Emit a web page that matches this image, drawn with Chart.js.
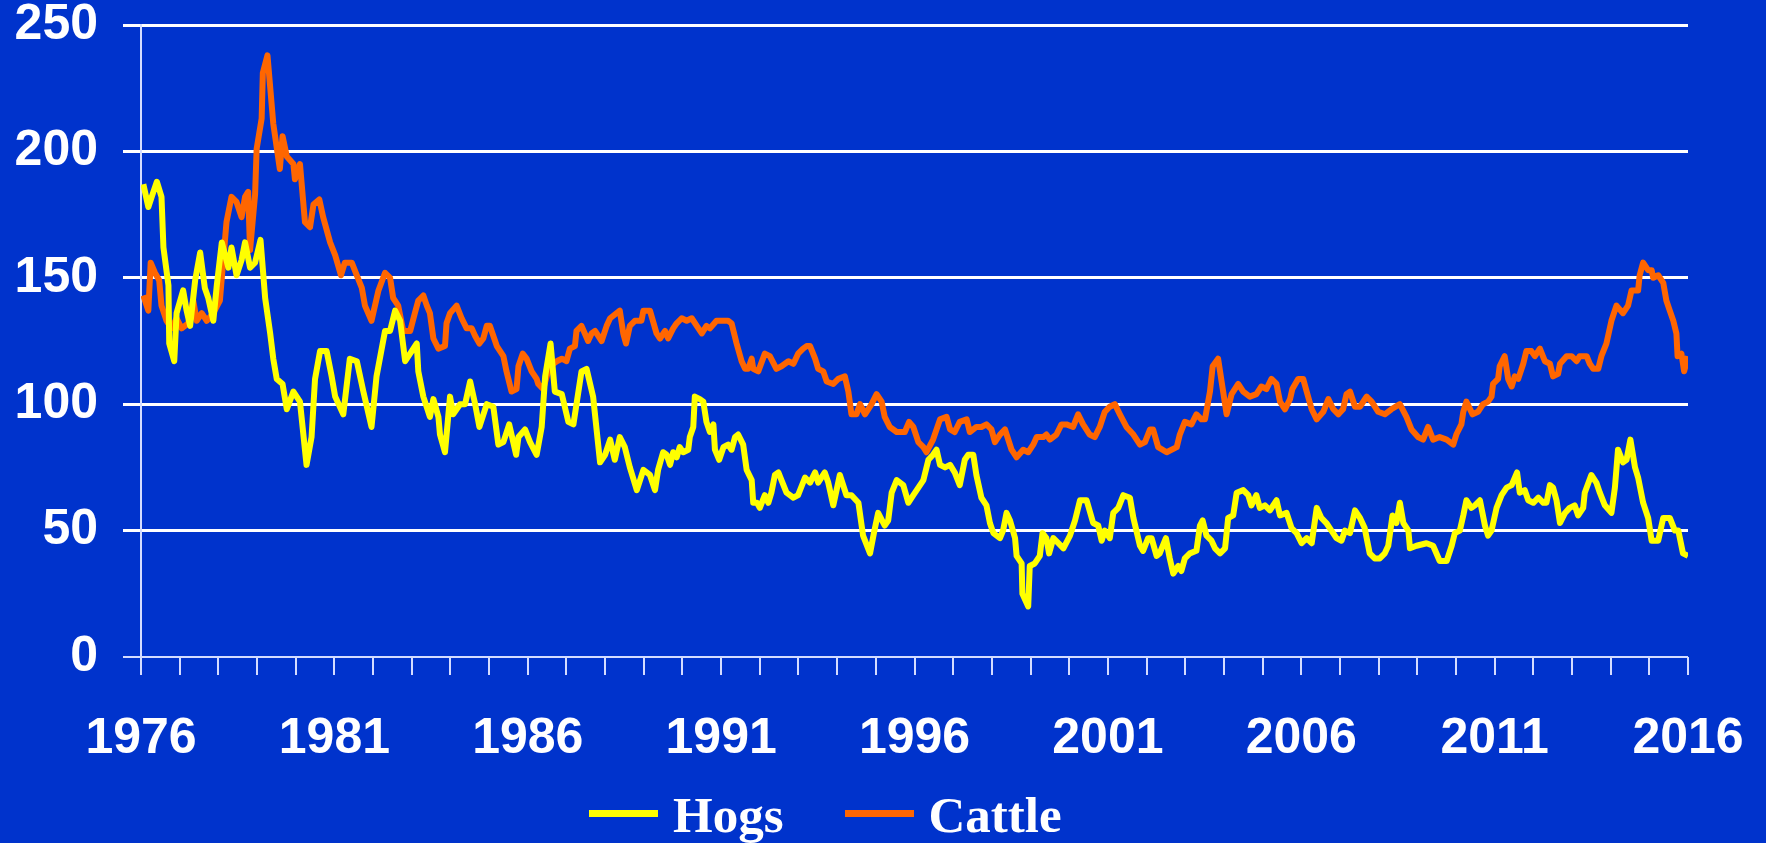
<!DOCTYPE html>
<html>
<head>
<meta charset="utf-8">
<title>Hogs and Cattle</title>
<script src="https://cdn.jsdelivr.net/npm/chart.js@4.4.1/dist/chart.umd.min.js"></script>
<style>
  html, body { margin: 0; padding: 0; background: #0033cc; }
  #wrap { position: relative; width: 1766px; height: 843px; overflow: hidden; }
  #legend {
    position: absolute; left: 589px; top: 790px;
    display: flex; align-items: center;
    font: bold 51px "Liberation Serif", "Times New Roman", serif;
    line-height: 51px; color: #ffffff; white-space: nowrap;
  }
  #legend .item { display: flex; align-items: center; margin-right: 61px; }
  #legend .swatch { width: 69px; height: 7px; margin-right: 15px; position: relative; top: -2px; }
</style>
</head>
<body>
<div id="wrap">
  <canvas id="chart" width="1766" height="843"></canvas>
  <div id="legend"></div>
</div>
<script>
const yearLabels = [1976, 1981, 1986, 1991, 1996, 2001, 2006, 2011, 2016]
const yTicks = [0, 50, 100, 150, 200, 250]

// readings taken off the original, date as decimal year
const hogDates = [
  1976.06, 1976.19, 1976.32, 1976.41, 1976.53, 1976.58, 1976.71, 1976.73, 1976.86, 1976.92,
  1977.09, 1977.18, 1977.27, 1977.40, 1977.53, 1977.65, 1977.74, 1977.87, 1977.96, 1978.09,
  1978.26, 1978.34, 1978.47, 1978.60, 1978.69, 1978.82, 1978.95, 1979.09, 1979.21, 1979.34,
  1979.42, 1979.51, 1979.66, 1979.77, 1979.94, 1980.11, 1980.28, 1980.41, 1980.50, 1980.63,
  1980.80, 1980.93, 1981.02, 1981.23, 1981.40, 1981.58, 1981.75, 1981.96, 1982.09, 1982.31,
  1982.44, 1982.57, 1982.70, 1982.83, 1983.00, 1983.13, 1983.17, 1983.30, 1983.47, 1983.56,
  1983.69, 1983.73, 1983.86, 1983.99, 1984.07, 1984.25, 1984.38, 1984.51, 1984.64, 1984.75,
  1984.94, 1985.11, 1985.24, 1985.37, 1985.52, 1985.70, 1985.76, 1985.93, 1986.06, 1986.23,
  1986.36, 1986.45, 1986.59, 1986.70, 1986.88, 1987.05, 1987.18, 1987.26, 1987.39, 1987.52,
  1987.69, 1987.87, 1988.00, 1988.13, 1988.25, 1988.38, 1988.51, 1988.64, 1988.82, 1988.99,
  1989.16, 1989.29, 1989.37, 1989.50, 1989.59, 1989.68, 1989.76, 1989.85, 1989.93, 1990.02,
  1990.15, 1990.19, 1990.28, 1990.32, 1990.45, 1990.54, 1990.62, 1990.71, 1990.80, 1990.84,
  1990.95, 1991.06, 1991.18, 1991.27, 1991.36, 1991.44, 1991.57, 1991.66, 1991.79, 1991.83,
  1991.93, 1992.00, 1992.13, 1992.22, 1992.30, 1992.39, 1992.48, 1992.56, 1992.69, 1992.87,
  1992.99, 1993.17, 1993.30, 1993.43, 1993.51, 1993.68, 1993.77, 1993.90, 1994.07, 1994.24,
  1994.37, 1994.55, 1994.67, 1994.85, 1994.95, 1995.06, 1995.23, 1995.32, 1995.41, 1995.54,
  1995.71, 1995.84, 1995.97, 1996.10, 1996.23, 1996.36, 1996.48, 1996.57, 1996.66, 1996.79,
  1996.92, 1997.04, 1997.17, 1997.30, 1997.39, 1997.52, 1997.60, 1997.73, 1997.86, 1997.95,
  1998.04, 1998.21, 1998.29, 1998.38, 1998.47, 1998.60, 1998.64, 1998.77, 1998.79, 1998.94,
  1998.98, 1999.11, 1999.24, 1999.31, 1999.41, 1999.48, 1999.59, 1999.72, 1999.85, 2000.02,
  2000.15, 2000.28, 2000.45, 2000.62, 2000.75, 2000.84, 2000.92, 2001.05, 2001.14, 2001.27,
  2001.40, 2001.57, 2001.66, 2001.83, 2001.91, 2002.04, 2002.13, 2002.26, 2002.34, 2002.50,
  2002.60, 2002.69, 2002.82, 2002.90, 2002.99, 2003.12, 2003.29, 2003.38, 2003.45, 2003.55,
  2003.68, 2003.77, 2003.90, 2004.03, 2004.11, 2004.24, 2004.33, 2004.50, 2004.63, 2004.71,
  2004.84, 2004.93, 2005.06, 2005.19, 2005.36, 2005.45, 2005.62, 2005.75, 2005.88, 2006.01,
  2006.14, 2006.27, 2006.40, 2006.52, 2006.65, 2006.78, 2006.91, 2007.04, 2007.13, 2007.26,
  2007.39, 2007.52, 2007.64, 2007.77, 2007.90, 2008.03, 2008.16, 2008.25, 2008.36, 2008.46,
  2008.55, 2008.64, 2008.77, 2008.81, 2008.98, 2009.24, 2009.41, 2009.58, 2009.76, 2009.89,
  2009.97, 2010.10, 2010.19, 2010.27, 2010.40, 2010.49, 2010.62, 2010.75, 2010.83, 2010.92,
  2011.05, 2011.18, 2011.31, 2011.44, 2011.58, 2011.65, 2011.78, 2011.87, 2012.00, 2012.13,
  2012.26, 2012.34, 2012.43, 2012.51, 2012.60, 2012.69, 2012.82, 2012.94, 2013.07, 2013.16,
  2013.29, 2013.33, 2013.50, 2013.63, 2013.72, 2013.85, 2014.02, 2014.11, 2014.19, 2014.32,
  2014.41, 2014.51, 2014.63, 2014.71, 2014.84, 2014.97, 2015.06, 2015.23, 2015.36, 2015.53,
  2015.66, 2015.75, 2015.87, 2016.00
]
const hogs = [
  187, 178, 184, 188, 182, 162, 147, 124, 117, 136,
  145, 137, 131, 149, 160, 146, 142, 133, 147, 164,
  154, 162, 151, 157, 164, 154, 156, 165, 142, 128,
  118, 110, 108, 98, 105, 101, 76, 87, 110, 121,
  121, 111, 103, 96, 118, 117, 105, 91, 111, 129,
  129, 137, 133, 117, 121, 124, 113, 103, 95, 102,
  95, 88, 81, 103, 96, 100, 100, 109, 100, 91,
  100, 99, 84, 85, 92, 80, 87, 90, 85, 80,
  91, 111, 124, 105, 104, 93, 92, 100, 113, 114,
  103, 77, 80, 86, 78, 87, 83, 75, 66, 74,
  72, 66, 74, 81, 80, 76, 81, 79, 83, 81,
  82, 87, 91, 103, 102, 101, 93, 89, 92, 82,
  78, 83, 84, 82, 87, 88, 84, 74, 70, 61,
  61, 59, 64, 61, 65, 72, 73, 70, 65, 63,
  64, 71, 69, 73, 69, 73, 69, 60, 72, 64,
  64, 61, 48, 41, 49, 57, 52, 54, 65, 70,
  68, 61, 64, 67, 70, 78, 80, 82, 76, 75,
  76, 73, 68, 78, 80, 80, 72, 63, 60, 53,
  49, 47, 50, 57, 54, 47, 40, 37, 25, 20,
  36, 37, 40, 49, 47, 41, 47, 45, 43, 48,
  54, 62, 62, 53, 52, 46, 50, 47, 57, 59,
  64, 63, 55, 44, 42, 47, 47, 40, 41, 47,
  39, 33, 36, 34, 39, 41, 42, 52, 54, 48,
  46, 43, 41, 43, 55, 56, 65, 66, 64, 60,
  64, 59, 60, 58, 62, 56, 57, 51, 49, 45,
  47, 45, 59, 55, 53, 50, 47, 46, 50, 49,
  58, 55, 51, 41, 39, 39, 41, 44, 56, 53,
  61, 53, 50, 43, 44, 45, 44, 38, 38, 44,
  49, 50, 56, 62, 59, 60, 62, 52, 48, 50,
  59, 64, 67, 68, 73, 65, 66, 62, 61, 63,
  61, 61, 68, 67, 62, 53, 57, 59, 60, 56,
  59, 65, 72, 69, 65, 60, 57, 67, 82, 77,
  78, 86, 75, 71, 61, 55, 46, 46, 55, 55,
  50, 50, 41, 40
]

const cattleDates = [
  1976.06, 1976.19, 1976.25, 1976.36, 1976.47, 1976.53, 1976.66, 1976.79, 1976.92, 1977.05,
  1977.22, 1977.35, 1977.44, 1977.57, 1977.70, 1977.87, 1978.04, 1978.21, 1978.34, 1978.47,
  1978.60, 1978.69, 1978.77, 1978.82, 1978.95, 1978.99, 1979.12, 1979.15, 1979.27, 1979.42,
  1979.59, 1979.66, 1979.77, 1979.94, 1979.98, 1980.11, 1980.24, 1980.37, 1980.46, 1980.61,
  1980.71, 1980.89, 1981.02, 1981.17, 1981.27, 1981.45, 1981.58, 1981.71, 1981.79, 1981.96,
  1982.14, 1982.31, 1982.44, 1982.52, 1982.65, 1982.78, 1982.96, 1983.08, 1983.17, 1983.30,
  1983.39, 1983.47, 1983.56, 1983.69, 1983.86, 1983.90, 1983.99, 1984.16, 1984.29, 1984.42,
  1984.55, 1984.64, 1984.75, 1984.85, 1984.94, 1985.02, 1985.20, 1985.37, 1985.45, 1985.58,
  1985.71, 1985.76, 1985.87, 1985.97, 1986.10, 1986.23, 1986.27, 1986.40, 1986.49, 1986.57,
  1986.75, 1986.88, 1987.00, 1987.09, 1987.22, 1987.26, 1987.39, 1987.56, 1987.65, 1987.74,
  1987.91, 1988.04, 1988.13, 1988.38, 1988.47, 1988.54, 1988.64, 1988.77, 1988.94, 1988.99,
  1989.16, 1989.33, 1989.42, 1989.55, 1989.63, 1989.76, 1989.85, 1989.98, 1990.11, 1990.24,
  1990.37, 1990.50, 1990.62, 1990.71, 1990.88, 1991.06, 1991.18, 1991.27, 1991.40, 1991.53,
  1991.62, 1991.70, 1991.79, 1991.83, 1991.96, 1992.13, 1992.26, 1992.43, 1992.56, 1992.74,
  1992.87, 1992.99, 1993.12, 1993.21, 1993.30, 1993.43, 1993.51, 1993.64, 1993.73, 1993.90,
  1994.03, 1994.20, 1994.29, 1994.37, 1994.50, 1994.59, 1994.72, 1994.89, 1995.02, 1995.15,
  1995.23, 1995.36, 1995.54, 1995.75, 1995.86, 1995.97, 1996.10, 1996.23, 1996.31, 1996.48,
  1996.66, 1996.83, 1996.92, 1997.04, 1997.17, 1997.35, 1997.43, 1997.60, 1997.73, 1997.86,
  1997.99, 1998.08, 1998.21, 1998.34, 1998.51, 1998.64, 1998.81, 1998.94, 1999.07, 1999.16,
  1999.33, 1999.41, 1999.50, 1999.67, 1999.80, 1999.93, 2000.10, 2000.23, 2000.36, 2000.53,
  2000.66, 2000.79, 2000.92, 2001.05, 2001.18, 2001.31, 2001.48, 2001.66, 2001.83, 2001.96,
  2002.09, 2002.17, 2002.30, 2002.52, 2002.78, 2002.86, 2002.99, 2003.16, 2003.29, 2003.42,
  2003.51, 2003.64, 2003.71, 2003.85, 2003.98, 2004.07, 2004.20, 2004.37, 2004.50, 2004.67,
  2004.84, 2004.97, 2005.10, 2005.23, 2005.36, 2005.45, 2005.58, 2005.71, 2005.77, 2005.92,
  2006.05, 2006.14, 2006.27, 2006.40, 2006.57, 2006.70, 2006.83, 2006.96, 2007.08, 2007.17,
  2007.26, 2007.39, 2007.52, 2007.69, 2007.82, 2007.99, 2008.16, 2008.33, 2008.55, 2008.72,
  2008.85, 2009.02, 2009.15, 2009.28, 2009.41, 2009.58, 2009.76, 2009.93, 2010.01, 2010.14,
  2010.19, 2010.27, 2010.43, 2010.57, 2010.70, 2010.83, 2010.92, 2010.96, 2011.09, 2011.13,
  2011.26, 2011.35, 2011.44, 2011.52, 2011.61, 2011.74, 2011.82, 2011.95, 2012.04, 2012.17,
  2012.30, 2012.43, 2012.51, 2012.64, 2012.69, 2012.86, 2012.99, 2013.12, 2013.20, 2013.38,
  2013.46, 2013.55, 2013.68, 2013.76, 2013.89, 2014.02, 2014.15, 2014.32, 2014.45, 2014.54,
  2014.71, 2014.75, 2014.84, 2014.97, 2015.06, 2015.10, 2015.23, 2015.36, 2015.44, 2015.53,
  2015.62, 2015.70, 2015.73, 2015.83, 2015.90, 2016.00, 2016.05
]
const cattle = [
  143, 137, 156, 152, 149, 139, 133, 130, 134, 130,
  132, 141, 133, 136, 133, 136, 141, 172, 182, 180,
  174, 182, 184, 161, 183, 201, 213, 231, 238, 211,
  193, 206, 198, 195, 189, 195, 172, 170, 179, 181,
  174, 164, 159, 151, 156, 156, 151, 146, 139, 133,
  145, 152, 150, 142, 139, 129, 129, 136, 141, 143,
  139, 136, 126, 122, 123, 132, 136, 139, 134, 130,
  130, 127, 124, 126, 131, 131, 123, 119, 113, 105,
  106, 115, 120, 118, 113, 110, 108, 106, 111, 115,
  117, 118, 117, 122, 123, 129, 131, 125, 128, 129,
  125, 131, 134, 137, 128, 124, 131, 133, 133, 137,
  137, 128, 126, 129, 126, 130, 132, 134, 133, 134,
  131, 128, 131, 130, 133, 133, 133, 132, 124, 117,
  114, 114, 118, 114, 113, 120, 119, 114, 115, 117,
  116, 120, 122, 123, 123, 118, 114, 113, 109, 108,
  110, 111, 105, 96, 96, 100, 96, 100, 104, 101,
  95, 91, 89, 89, 93, 91, 85, 83, 81, 86,
  94, 95, 90, 89, 93, 94, 89, 91, 91, 92,
  90, 85, 88, 90, 82, 79, 82, 81, 84, 87,
  87, 88, 86, 88, 92, 92, 91, 96, 92, 88,
  87, 91, 97, 99, 100, 96, 91, 88, 84, 85,
  90, 90, 83, 81, 83, 88, 93, 92, 96, 94,
  94, 105, 115, 118, 105, 96, 104, 108, 105, 103,
  104, 107, 106, 110, 108, 101, 98, 102, 106, 110,
  110, 105, 98, 94, 97, 102, 98, 96, 98, 104,
  105, 99, 99, 103, 101, 97, 96, 98, 100, 95,
  90, 87, 86, 91, 86, 87, 86, 84, 88, 92,
  97, 101, 96, 97, 100, 101, 103, 108, 110, 115,
  119, 110, 107, 111, 110, 116, 121, 121, 119, 122,
  117, 116, 111, 112, 116, 119, 119, 117, 119, 119,
  116, 114, 114, 119, 124, 133, 139, 136, 139, 145,
  145, 151, 156, 153, 153, 150, 151, 148, 141, 137,
  133, 128, 119, 120, 113, 119, 120
]

const axisColor = "#d4dcff"
const labelFont = { family: "'Liberation Sans', Arial, sans-serif", size: 50, weight: "bold", lineHeight: 1 }

const series = [
  { label: "Hogs", dates: hogDates, values: hogs, color: "#ffff00" },
  { label: "Cattle", dates: cattleDates, values: cattle, color: "#ff6600" }
]

const chart = new Chart(document.getElementById("chart"), {
  type: "line",
  data: {
    datasets: series.map(s => ({
      label: s.label,
      data: s.values.map((v, i) => ({ x: s.dates[i], y: v })),
      borderColor: s.color,
      backgroundColor: s.color,
      borderWidth: 6,
      borderJoinStyle: "round",
      pointRadius: 0,
      tension: 0,
      fill: false
    }))
  },
  options: {
    responsive: false,
    animation: false,
    layout: { padding: { top: 25, right: 78, bottom: 0, left: 0 } },
    plugins: {
      legend: { display: false },
      tooltip: { enabled: false }
    },
    scales: {
      x: {
        type: "linear",
        min: 1976,
        max: 2016,
        // fixed band under the plot, label overflow handled by layout padding
        afterFit: axis => {
          axis.height = 186
          axis.paddingLeft = 0
          axis.paddingRight = 0
        },
        grid: {
          drawOnChartArea: false,
          drawTicks: true,
          tickLength: 18,
          color: axisColor,
          lineWidth: 2
        },
        border: { display: false },
        ticks: {
          stepSize: 1,
          autoSkip: false,
          maxRotation: 0,
          minRotation: 0,
          padding: 39,
          color: "#ffffff",
          font: labelFont,
          callback: v => yearLabels.includes(v) ? String(v) : ""
        }
      },
      y: {
        min: 0,
        max: 250,
        afterFit: axis => {
          axis.width = 141
          axis.paddingTop = 0
          axis.paddingBottom = 0
        },
        afterBuildTicks: axis => { axis.ticks = yTicks.map(v => ({ value: v })) },
        grid: {
          tickLength: 18,
          color: ctx => ctx.tick && ctx.tick.value === 0 ? axisColor : "#ffffff",
          lineWidth: ctx => ctx.tick && ctx.tick.value === 0 ? 2 : 3
        },
        border: { display: true, color: axisColor, width: 2 },
        ticks: {
          padding: 25,
          color: "#ffffff",
          font: labelFont
        }
      }
    }
  }
})

// html legend under the plot
const legend = document.getElementById("legend")
chart.data.datasets.forEach(ds => {
  const item = document.createElement("div")
  item.className = "item"
  const sw = document.createElement("span")
  sw.className = "swatch"
  sw.style.background = ds.borderColor
  const txt = document.createElement("span")
  txt.textContent = ds.label
  item.appendChild(sw)
  item.appendChild(txt)
  legend.appendChild(item)
})
</script>
</body>
</html>
